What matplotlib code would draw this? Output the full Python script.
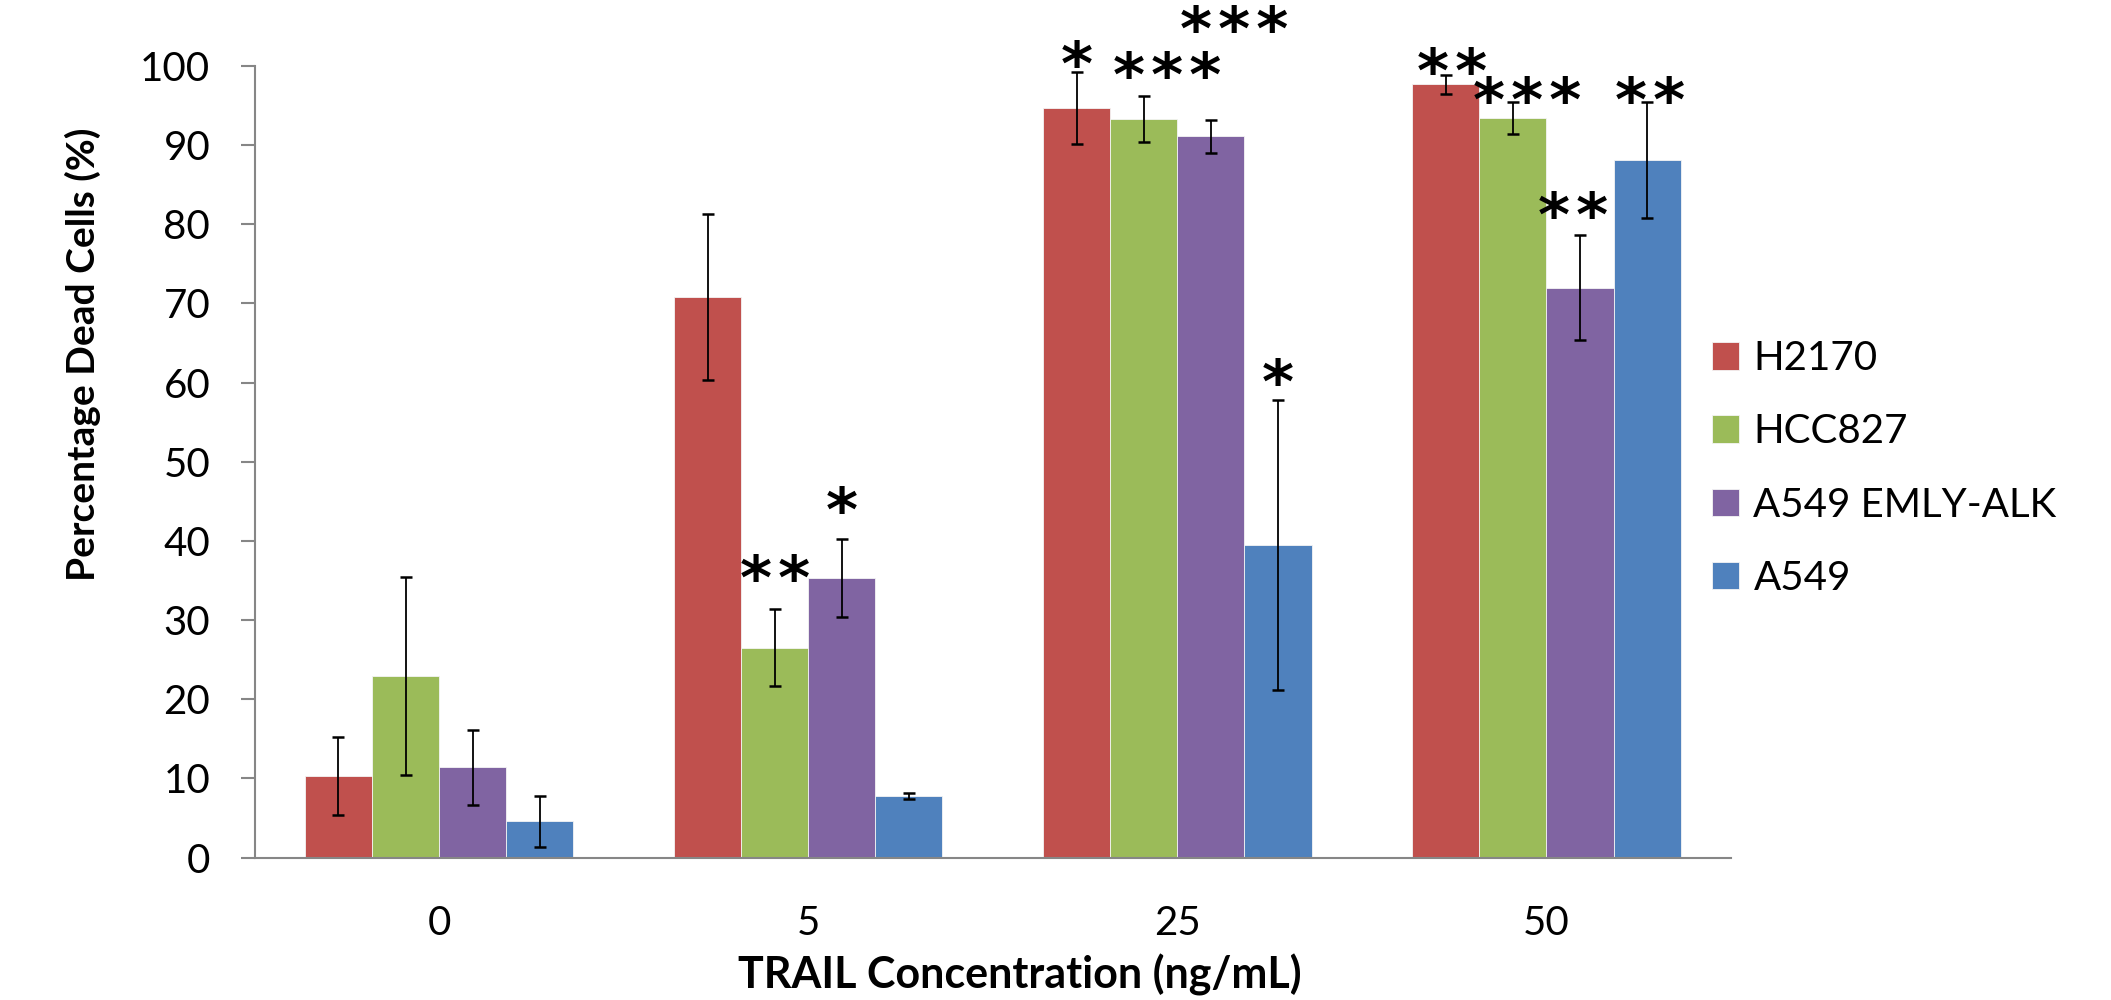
import matplotlib
matplotlib.use("Agg")
import matplotlib.pyplot as plt
import numpy as np

concentrations = ["0", "5", "25", "50"]
cell_lines = ["H2170", "HCC827", "A549 EMLY-ALK", "A549"]
colors = ["#C0504D", "#9BBB59", "#8064A2", "#4F81BD"]

# mean % dead cells per cell line, in order of concentrations
h2170 = [10.3, 70.8, 94.7, 97.7]
hcc827 = [22.9, 26.5, 93.3, 93.4]
emly_alk = [11.4, 35.3, 91.1, 72.0]
a549 = [4.6, 7.8, 39.5, 88.1]

# error bar half-widths
h2170_err = [4.9, 10.5, 4.6, 1.2]
hcc827_err = [12.5, 4.85, 2.9, 2.05]
emly_alk_err = [4.7, 4.95, 2.05, 6.6]
a549_err = [3.2, 0.4, 18.3, 7.3]

# significance marks and where they sit (y in data units, x shift in category units)
h2170_sig = ["", "", "*", "**"]
hcc827_sig = ["", "**", "***", "***"]
emly_alk_sig = ["", "*", "***", "**"]
a549_sig = ["", "", "*", "**"]
h2170_sig_y = [0, 0, 101.8, 100.9]
hcc827_sig_y = [0, 36.8, 100.4, 97.3]
emly_alk_sig_y = [0, 45.5, 106.2, 82.7]
a549_sig_y = [0, 0, 61.6, 97.2]
h2170_sig_dx = [0, 0, 0, 0.016]
hcc827_sig_dx = [0, 0, 0.062, 0.038]
emly_alk_sig_dx = [0, 0, 0.062, -0.019]
a549_sig_dx = [0, 0, 0, 0.008]

means = [h2170, hcc827, emly_alk, a549]
errs = [h2170_err, hcc827_err, emly_alk_err, a549_err]
sigs = [h2170_sig, hcc827_sig, emly_alk_sig, a549_sig]
sig_ys = [h2170_sig_y, hcc827_sig_y, emly_alk_sig_y, a549_sig_y]
sig_dxs = [h2170_sig_dx, hcc827_sig_dx, emly_alk_sig_dx, a549_sig_dx]

FONT = "Lato"
plt.rcParams["font.family"] = [FONT, "DejaVu Sans"]
AXIS_GREY = "#868686"

fig = plt.figure(figsize=(21.11, 10), dpi=100)
ax = fig.add_axes([0.1206, 0.1424, 0.6994, 0.7916])

x = np.arange(len(concentrations))
w = 1 / 5.5
for i, (name, col) in enumerate(zip(cell_lines, colors)):
    xi = x + (i - 1.5) * w
    ax.bar(xi, means[i], width=w, color=col, label=name,
           edgecolor="#f4f4f4", linewidth=0.6, zorder=2)
    ax.errorbar(xi, means[i], yerr=errs[i], fmt="none", ecolor="black",
                elinewidth=1.3, capsize=4.2, capthick=1.8, zorder=3)
    for j in range(len(concentrations)):
        if sigs[i][j]:
            ax.annotate("\u200a".join(sigs[i][j]),
                        (xi[j] + sig_dxs[i][j], sig_ys[i][j]),
                        xytext=(0, -12), textcoords="offset points",
                        ha="center", va="center", fontsize=44,
                        fontweight="bold", family="DejaVu Sans",
                        color="black", annotation_clip=False, zorder=4)

ax.set_xlim(-0.5, 3.5)
ax.set_ylim(0, 100)
ax.set_yticks(np.arange(0, 101, 10))
ax.set_xticks(x)
ax.set_xticklabels(concentrations)

for s in ("top", "right"):
    ax.spines[s].set_visible(False)
for s in ("left", "bottom"):
    ax.spines[s].set_color(AXIS_GREY)
    ax.spines[s].set_linewidth(1.5)

ax.tick_params(axis="y", length=10, width=1.5, color=AXIS_GREY,
               labelsize=29, pad=22)
ax.tick_params(axis="x", length=0, labelsize=29, pad=34)

fig.text(1020 / 2111, 1 - 975 / 1000, "TRAIL Concentration (ng/mL)",
         ha="center", va="center", fontsize=31, fontweight="bold")
fig.text(83 / 2111, 1 - 354 / 1000, "Percentage Dead Cells (%)",
         ha="center", va="center", rotation=90, fontsize=28, fontweight="bold")

ax.legend(loc="upper left", bbox_to_anchor=(1712 / 2111, 1 - 340 / 1000),
          bbox_transform=fig.transFigure, frameon=False, fontsize=29,
          handlelength=0.68, handleheight=0.68, handletextpad=0.35,
          labelspacing=0.9, borderpad=0, borderaxespad=0)

fig.savefig("out.png", dpi=100)
